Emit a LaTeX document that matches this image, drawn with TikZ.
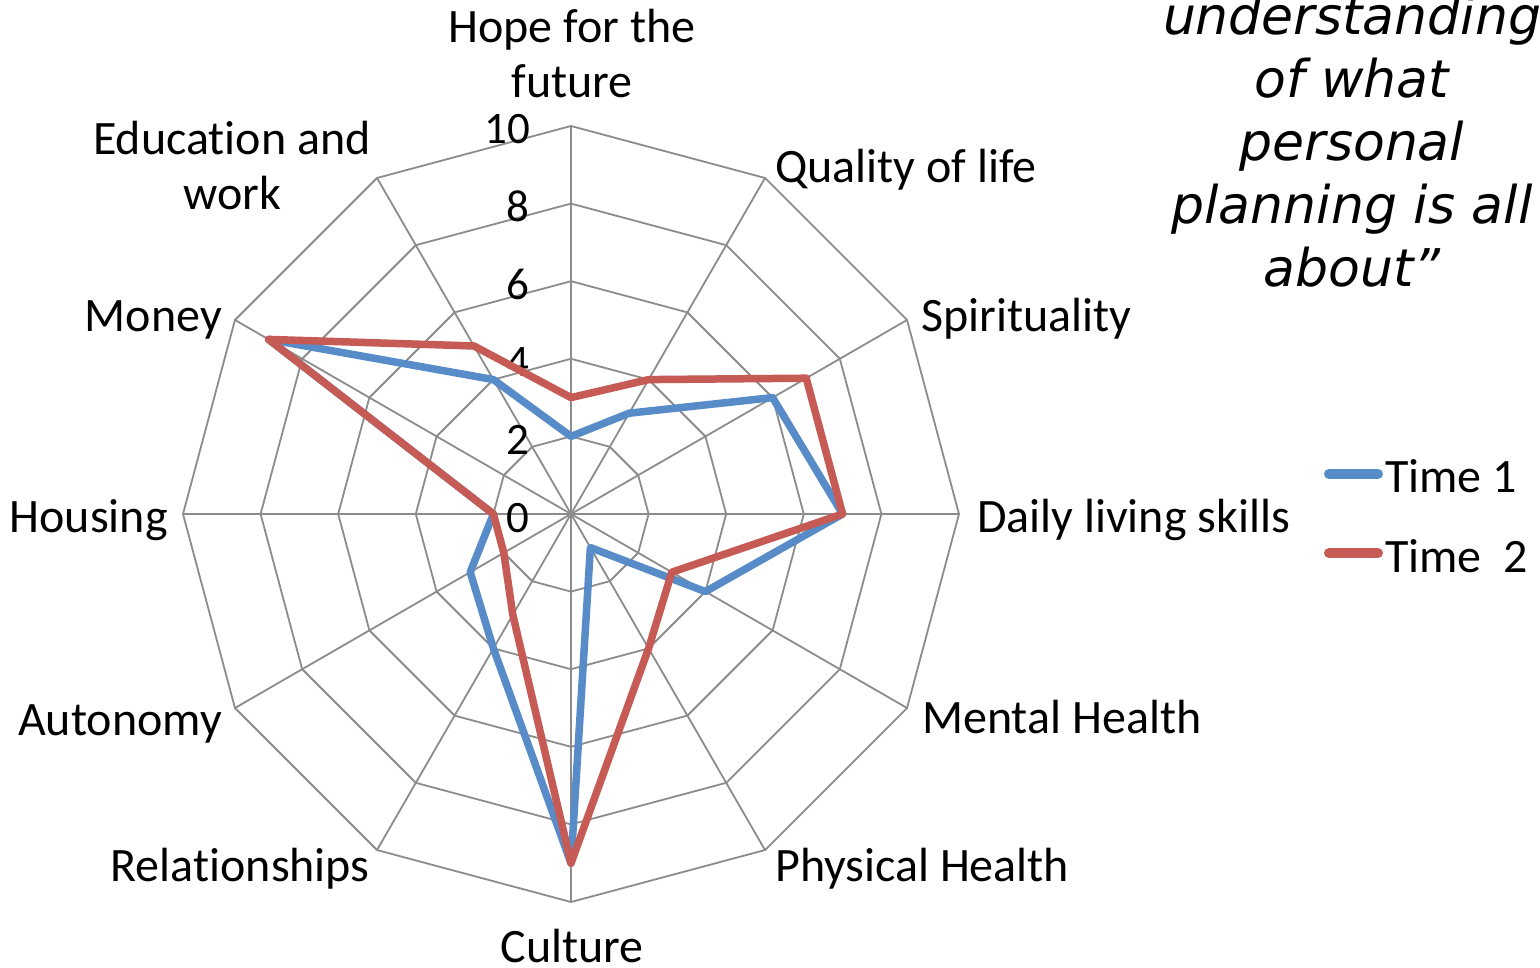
\documentclass[tikz,border=0pt]{standalone}
\usepackage{fontspec}
\setmainfont[Ligatures=NoCommon]{Carlito}
\newfontfamily\quotefont[ItalicFont={DejaVu Sans Oblique}]{DejaVu Sans}
\usetikzlibrary{calc}
\definecolor{tonea}{RGB}{88,140,200}
\definecolor{toneb}{RGB}{198,90,84}
\definecolor{gridgray}{RGB}{140,140,140}
\tikzset{
  gridline/.style={draw=gridgray, line width=1.8pt},
  series/.style={line width=7.5pt, line join=round},
  lbl/.style={inner sep=0pt, font=\fontsize{48}{55}\selectfont},
  ticklbl/.style={inner sep=0pt, font=\fontsize{45}{55}\selectfont},
  keyline/.style={line width=10pt, line cap=round},
}
\begin{document}
\begin{tikzpicture}[x=1pt,y=-1pt]
\useasboundingbox (0,0) rectangle (1540,968);
\fill[white] (0,0) rectangle (1540,968);
\coordinate (O) at (571,514);
% grid rings
\foreach \r in {2,4,6,8,10}{
  \draw[gridline] ($(O)+(-90:\r*38.8)$)
    \foreach \k in {1,...,11}{ -- ($(O)+(30*\k-90:\r*38.8)$) } -- cycle;
}
% spokes
\foreach \k in {0,...,11}{
  \coordinate (s\k) at ($(O)+(30*\k-90:388)$);
  \draw[gridline] (O) -- (s\k);
}
% tick labels
\foreach \v/\t in {0/0,1/2,2/4,3/6,4/8,5/10}{
  \node[ticklbl, anchor=base east] (tick\t) at (530,532-\v*77.6) {\t};
}
% data
\foreach \v [count=\k from 0] in {2,3,6,7,4,1,9,4,3,2,9,4}{
  \coordinate (a\k) at ($(O)+(30*\k-90:\v*38.8)$);
}
\foreach \v [count=\k from 0] in {3,4,7,7,3,4,9,3,2,2,9,5}{
  \coordinate (b\k) at ($(O)+(30*\k-90:\v*38.8)$);
}
\draw[series, tonea] (a0) -- (a1) -- (a2) -- (a3) -- (a4) -- (a5) -- (a6) -- (a7) -- (a8) -- (a9) -- (a10) -- (a11) -- cycle;
\draw[series, toneb] (b0) -- (b1) -- (b2) -- (b3) -- (b4) -- (b5) -- (b6) -- (b7) -- (b8) -- (b9) -- (b10) -- (b11) -- cycle;
% axis labels
\node[lbl, anchor=base, align=center] (lhope) at (572,98) {Hope for the\\future};
\node[lbl, anchor=base west] (lqual) at (775,183) {Quality of life};
\node[lbl, anchor=base west] (lspir) at (921,332) {Spirituality};
\node[lbl, anchor=base west] (ldaily) at (977,532) {Daily living skills};
\node[lbl, anchor=base west] (lment) at (922,733) {Mental Health};
\node[lbl, anchor=base west] (lphys) at (775,881) {Physical Health};
\node[lbl, anchor=base] (lcult) at (572,962) {Culture};
\node[lbl, anchor=base east] (lrel) at (370,881) {Relationships};
\node[lbl, anchor=base east] (laut) at (222,735) {Autonomy};
\node[lbl, anchor=base east] (lhous) at (168,532) {Housing};
\node[lbl, anchor=base east] (lmon) at (222,332) {Money};
\node[lbl, anchor=base, align=center] (ledu) at (232,210) {Education and\\work};
% legend
\coordinate (k1a) at (1329,474); \coordinate (k1b) at (1378,474);
\coordinate (k2a) at (1329,553); \coordinate (k2b) at (1378,553);
\draw[keyline, tonea] (k1a) -- (k1b);
\draw[keyline, toneb] (k2a) -- (k2b);
\node[lbl, anchor=base west] (leg1) at (1385,492) {Time 1};
\node[lbl, anchor=base west] (leg2) at (1385,572) {Time\ \ 2};
% quote
\node[inner sep=0pt, anchor=base, align=center, font=\quotefont\itshape\fontsize{52}{63}\selectfont] (quote) at (1352,287) {understanding\\of what\\personal\\planning is all\\about”};
\end{tikzpicture}
\end{document}
